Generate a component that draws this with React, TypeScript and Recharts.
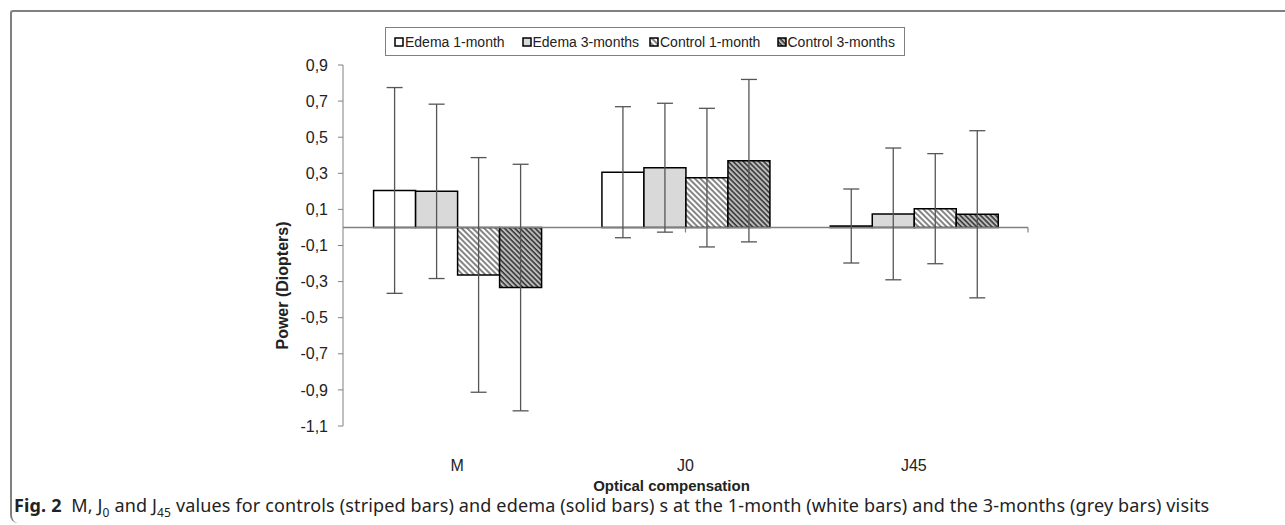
import { BarChart, Bar, XAxis, YAxis, ErrorBar, Legend, ReferenceLine } from 'recharts';

const categories = ['M', 'J0', 'J45'];
const edema1 = [0.205, 0.306, 0.008];
const edema3 = [0.2, 0.331, 0.075];
const control1 = [-0.263, 0.276, 0.104];
const control3 = [-0.333, 0.37, 0.073];
const edema1Err = [0.57, 0.363, 0.205];
const edema3Err = [0.483, 0.357, 0.365];
const control1Err = [0.65, 0.384, 0.305];
const control3Err = [0.683, 0.45, 0.463];
const yTicks = [-1.1, -0.9, -0.7, -0.5, -0.3, -0.1, 0.1, 0.3, 0.5, 0.7, 0.9];
const boundaryTicks = [1, 2, 3];

const data = categories.map((name, i) => ({
  name,
  e1: edema1[i],
  e3: edema3[i],
  c1: control1[i],
  c3: control3[i],
  e1Err: edema1Err[i],
  e3Err: edema3Err[i],
  c1Err: control1Err[i],
  c3Err: control3Err[i],
}));

const series = [
  { key: 'e1', err: 'e1Err', label: 'Edema 1-month', fill: '#ffffff' },
  { key: 'e3', err: 'e3Err', label: 'Edema 3-months', fill: '#d9d9d9' },
  { key: 'c1', err: 'c1Err', label: 'Control 1-month', fill: 'url(#stripeLight)' },
  { key: 'c3', err: 'c3Err', label: 'Control 3-months', fill: 'url(#stripeDark)' },
];

const AXIS = '#808080';
const FONT = 'Liberation Sans, Arial, sans-serif';

const fmt = (v: number) => v.toFixed(1).replace('.', ',');

const LegendBox = () => (
  <div
    style={{
      border: `1px solid ${AXIS}`,
      height: 29,
      display: 'flex',
      alignItems: 'center',
      paddingLeft: 8,
      fontFamily: FONT,
      fontSize: 14,
      color: '#222',
      boxSizing: 'border-box',
    }}
  >
    {series.map((s) => (
      <div key={s.key} style={{ width: 128, display: 'flex', alignItems: 'center' }}>
        <svg width={10} height={10} style={{ marginRight: 1 }}>
          <rect x={1} y={1} width={8} height={8} fill={s.fill} stroke="#000" strokeWidth={1.5} />
        </svg>
        <span>{s.label}</span>
      </div>
    ))}
  </div>
);

const YTitle = (props: any) => {
  const { viewBox } = props;
  const cx = viewBox.x - 1;
  const cy = viewBox.y + viewBox.height / 2 + 40;
  return (
    <text
      x={cx}
      y={cy}
      transform={`rotate(-90, ${cx}, ${cy})`}
      textAnchor="middle"
      dominantBaseline="central"
      fontFamily={FONT}
      fontSize={16}
      fontWeight="bold"
      fill="#222"
    >
      Power (Diopters)
    </text>
  );
};

const App = () => {
  return (
    <div style={{ position: 'absolute', left: 0, top: 0, width: 1285, height: 525, background: '#fff' }}>
      <div
        style={{
          position: 'absolute',
          left: 10,
          top: 10,
          width: 1275,
          height: 513,
          borderTop: `2px solid ${AXIS}`,
          borderLeft: `2px solid ${AXIS}`,
          borderRadius: '3px 0 0 8px',
          boxSizing: 'border-box',
        }}
      />
      <BarChart
        width={1285}
        height={525}
        data={data}
        margin={{ top: 65, left: 283, right: 257, bottom: 0 }}
        barCategoryGap="13.4%"
        barGap={0}
        style={{ position: 'absolute', left: 0, top: 0 }}
      >
        <defs>
          <pattern id="stripeLight" width={4} height={4} patternUnits="userSpaceOnUse" patternTransform="rotate(-45)">
            <rect width={4} height={4} fill="#ffffff" />
            <line x1={1} y1={0} x2={1} y2={4} stroke="#333" strokeWidth={1.2} />
          </pattern>
          <pattern id="stripeDark" width={3.6} height={3.6} patternUnits="userSpaceOnUse" patternTransform="rotate(-45)">
            <rect width={3.6} height={3.6} fill="#bdbdbd" />
            <line x1={1} y1={0} x2={1} y2={3.6} stroke="#222" strokeWidth={1.4} />
          </pattern>
        </defs>
        <XAxis
          dataKey="name"
          axisLine={false}
          tickLine={false}
          tickMargin={28}
          height={70}
          tick={{ fontFamily: FONT, fontSize: 16, fill: '#222' }}
          label={{
            value: 'Optical compensation',
            position: 'insideBottom',
            offset: 5,
            dx: -14,
            style: { fontFamily: FONT, fontSize: 15, fontWeight: 'bold', fill: '#222' },
          }}
        />
        <XAxis xAxisId="num" type="number" domain={[0, 3]} hide />
        <YAxis
          domain={[-1.1, 0.9]}
          ticks={yTicks}
          interval={0}
          width={60}
          tickFormatter={fmt}
          stroke={AXIS}
          tickSize={5}
          tickMargin={10}
          tick={{ fontFamily: FONT, fontSize: 16, fill: '#222' }}
          label={<YTitle />}
        />
        <ReferenceLine y={0} stroke={AXIS} strokeWidth={1.5} />
        {boundaryTicks.map((t) => (
          <ReferenceLine
            key={t}
            xAxisId="num"
            segment={[
              { x: t, y: 0 },
              { x: t, y: -0.028 },
            ]}
            stroke={AXIS}
            strokeWidth={1.2}
          />
        ))}
        {series.map((s) => (
          <Bar
            key={s.key}
            dataKey={s.key}
            name={s.label}
            fill={s.fill}
            stroke="#000"
            strokeWidth={1.5}
            isAnimationActive={false}
          >
            <ErrorBar dataKey={s.err} width={8} stroke="#555" strokeWidth={1.3} direction="y" />
          </Bar>
        ))}
        <Legend
          content={<LegendBox />}
          wrapperStyle={{ left: 385, top: 27, width: 520, height: 29 }}
        />
      </BarChart>
      <div
        style={{
          position: 'absolute',
          left: 14,
          top: 493,
          fontFamily: 'Noto Sans, sans-serif',
          fontSize: 18,
          letterSpacing: 0.15,
          color: '#222',
          whiteSpace: 'nowrap',
        }}
      >
        <b>Fig. 2</b>&nbsp;&nbsp;M, J<sub style={{ fontSize: 12 }}>0</sub> and J<sub style={{ fontSize: 12 }}>45</sub> values for
        controls (striped bars) and edema (solid bars) s at the 1-month (white bars) and the 3-months (grey bars) visits
      </div>
    </div>
  );
};

export default App;
